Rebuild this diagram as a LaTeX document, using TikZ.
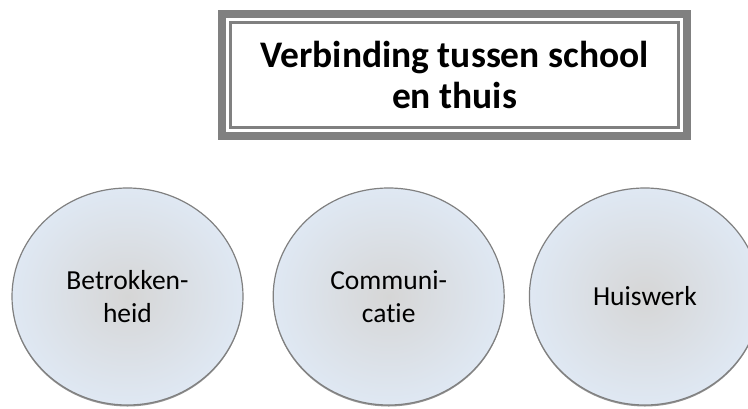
\documentclass[tikz,border=0pt]{standalone}
\usepackage{fontspec}
\setmainfont{Carlito}[Ligatures=NoCommon]
\usetikzlibrary{shapes.geometric,shadows,positioning}
\definecolor{rand}{RGB}{128,128,128}
\definecolor{bolbuiten}{RGB}{223,232,243}
\definecolor{bolbinnen}{RGB}{214,214,214}
\tikzset{
    titelkader/.style={draw=rand, line width=8pt, fill=white,
        minimum width=465pt, minimum height=122pt, align=center,
        font=\bfseries\fontsize{37.5}{41}\selectfont},
    bol/.style={ellipse, draw=rand, line width=1.2pt,
        minimum width=231pt, minimum height=217pt, inner sep=0pt,
        inner color=bolbinnen, outer color=bolbuiten, align=center,
        font=\fontsize{27.5}{33}\selectfont,
        drop shadow={shadow xshift=0pt, shadow yshift=-1.5pt, fill=black!70, opacity=0.6}}
}

\begin{document}
\begin{tikzpicture}[x=1pt, y=-1pt]
            \useasboundingbox (0,0) rectangle (748,408);
            \clip (0,0) rectangle (748,408);
            \node[titelkader] (titel) at (454.5,75) {Verbinding tussen school\\en thuis};
            \draw[rand, line width=2.5pt]([xshift=12.5pt, yshift=-12.5pt]titel.north west) rectangle ([xshift=-12.5pt, yshift=12.5pt]titel.south east);
            \node[bol] (betrokkenheid) at (127.5,296.5) {Betrokken-\\heid};
            \node[bol, right=29pt of betrokkenheid] (communicatie) {Communi-\\catie};
            \node[bol, right=24pt of communicatie] (huiswerk) {Huiswerk};
        \end{tikzpicture}
\end{document}
